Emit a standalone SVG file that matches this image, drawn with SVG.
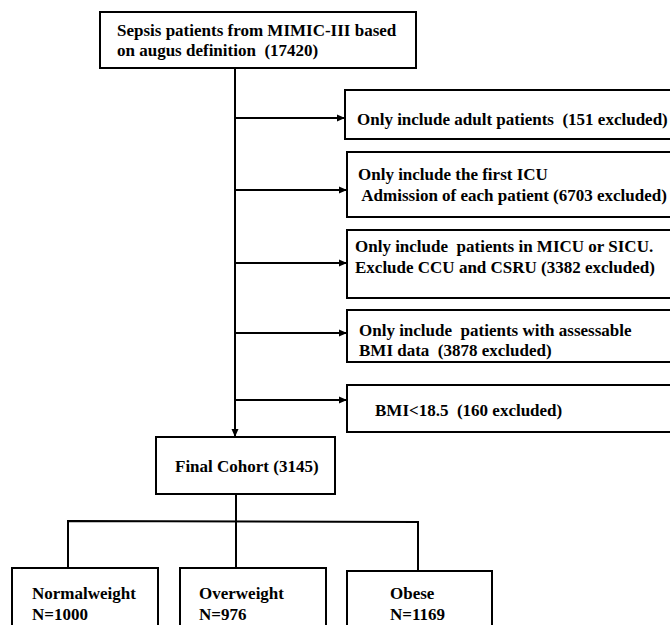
<svg xmlns="http://www.w3.org/2000/svg" width="670" height="625" viewBox="0 0 670 625">
<style>
.box{fill:#fff;stroke:#000;stroke-width:2}
.t{font-family:"Liberation Serif","Times New Roman",serif;font-weight:bold;font-size:17px;fill:#000;white-space:pre}
.ln{stroke:#000;stroke-width:2;fill:none}
</style>
<defs>
<marker id="ah" markerWidth="8" markerHeight="8" refX="7" refY="4" orient="auto" markerUnits="userSpaceOnUse">
<path d="M0,0.5 L8,4 L0,7.5 Z" fill="#000"/>
</marker>
</defs>
<g id="connectors">
<line class="ln" x1="235" y1="68" x2="235" y2="436" marker-end="url(#ah)"/>
<line class="ln" x1="235" y1="118" x2="344" y2="118" marker-end="url(#ah)"/>
<line class="ln" x1="235" y1="190" x2="346" y2="190" marker-end="url(#ah)"/>
<line class="ln" x1="235" y1="263" x2="346" y2="263" marker-end="url(#ah)"/>
<line class="ln" x1="235" y1="333" x2="346" y2="333" marker-end="url(#ah)"/>
<line class="ln" x1="235" y1="400" x2="346" y2="400" marker-end="url(#ah)"/>
<line class="ln" x1="236" y1="494" x2="236" y2="568"/>
<polyline class="ln" points="68,567 68,521 418,522 418,571"/>
</g>
<g id="n_sepsis">
<rect class="box" x="100" y="12" width="316" height="56"/>
<text class="t" x="117" y="36" xml:space="preserve">Sepsis patients from MIMIC-III based</text>
<text class="t" x="117" y="56" xml:space="preserve">on augus definition  (17420)</text>
</g>
<g id="n_adult">
<rect class="box" x="345" y="90" width="330" height="49"/>
<text class="t" x="357" y="125" xml:space="preserve">Only include adult patients  (151 excluded)</text>
</g>
<g id="n_firsticu">
<rect class="box" x="347" y="152" width="330" height="65"/>
<text class="t" x="358" y="180" xml:space="preserve">Only include the first ICU</text>
<text class="t" x="358" y="201" xml:space="preserve"> Admission of each patient (6703 excluded)</text>
</g>
<g id="n_micu">
<rect class="box" x="347" y="230" width="330" height="68"/>
<text class="t" x="355" y="252" xml:space="preserve">Only include  patients in MICU or SICU.</text>
<text class="t" x="355" y="273" xml:space="preserve">Exclude CCU and CSRU (3382 excluded)</text>
</g>
<g id="n_bmi">
<rect class="box" x="347" y="310" width="330" height="52"/>
<text class="t" x="359" y="336" xml:space="preserve">Only include  patients with assessable</text>
<text class="t" x="359" y="356" xml:space="preserve">BMI data  (3878 excluded)</text>
</g>
<g id="n_bmilow">
<rect class="box" x="347" y="385" width="330" height="47"/>
<text class="t" x="375" y="416" xml:space="preserve">BMI&lt;18.5  (160 excluded)</text>
</g>
<g id="n_final">
<rect class="box" x="156" y="437" width="179" height="57"/>
<text class="t" x="175" y="472">Final Cohort (3145)</text>
</g>
<g id="n_normal">
<rect class="box" x="12" y="568" width="146" height="70"/>
<text class="t" x="32" y="599">Normalweight</text>
<text class="t" x="32" y="620">N=1000</text>
</g>
<g id="n_over">
<rect class="box" x="180" y="568" width="146" height="70"/>
<text class="t" x="199" y="599">Overweight</text>
<text class="t" x="199" y="620">N=976</text>
</g>
<g id="n_obese">
<rect class="box" x="347" y="571" width="145" height="70"/>
<text class="t" x="390" y="599">Obese</text>
<text class="t" x="390" y="620">N=1169</text>
</g>
</svg>
